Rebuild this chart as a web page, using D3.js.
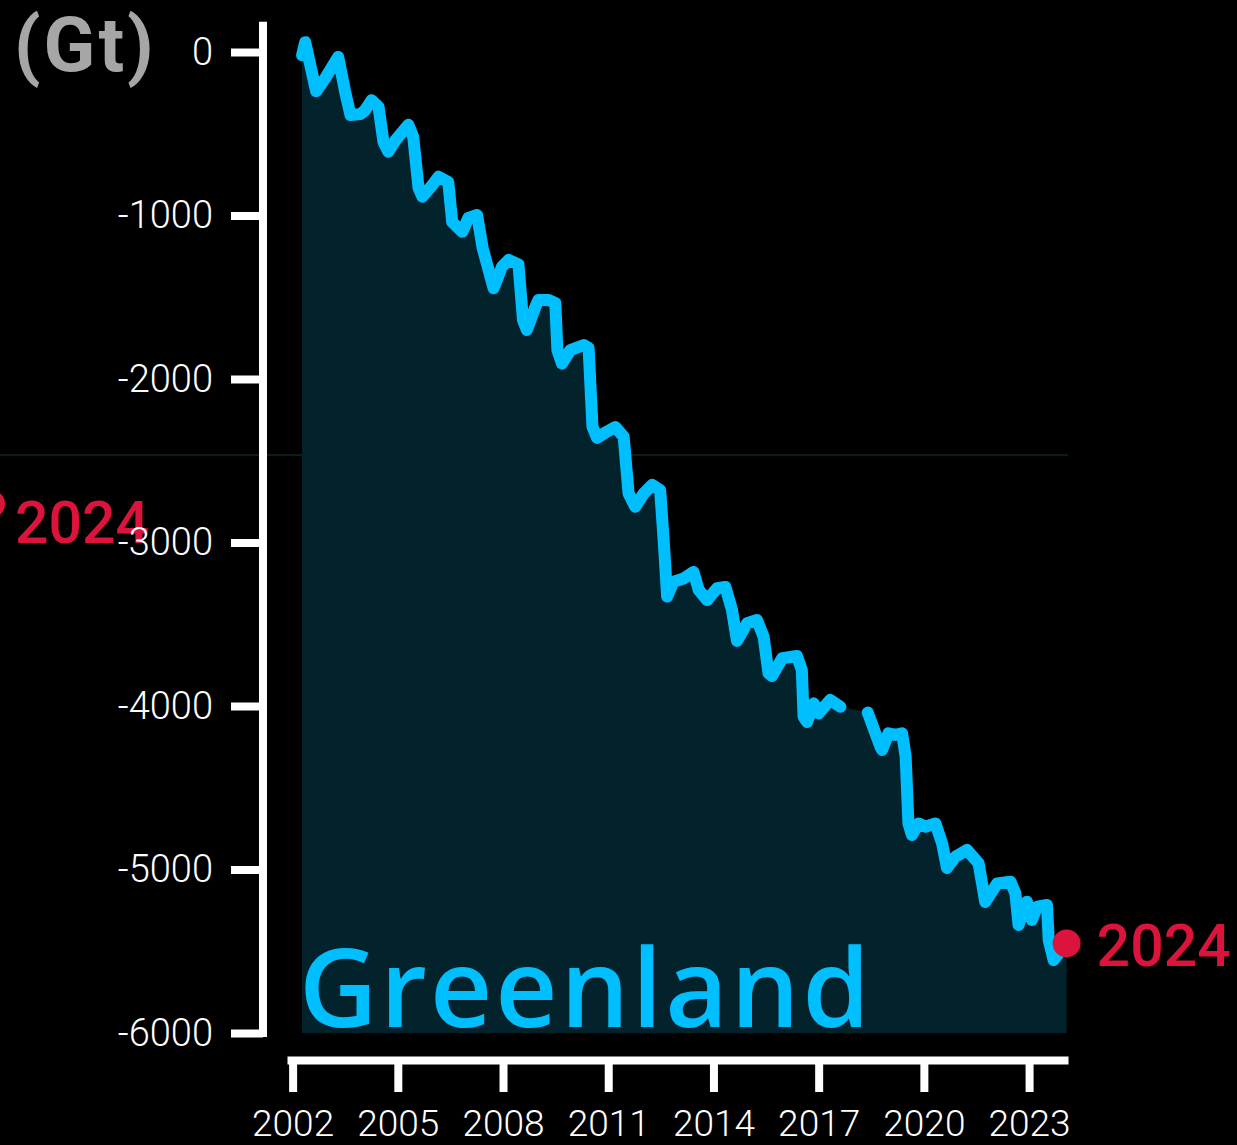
<!DOCTYPE html>
<html>
<head>
<meta charset="utf-8">
<script src="https://cdn.jsdelivr.net/npm/d3@7"></script>
<style>
html,body{margin:0;padding:0;background:#000;}
svg{display:block;background:#000;}
</style>
</head>
<body>
<svg id="chart" width="1237" height="1145"></svg>
<script>
// ---- data (decimal year, cumulative mass change in Gt) ----
const years = [
  2002.27, 2002.36, 2002.67, 2002.93, 2003.30, 2003.50, 2003.65, 2003.93, 2004.07, 2004.25,
  2004.45, 2004.59, 2004.73, 2004.93, 2005.30, 2005.44, 2005.59, 2005.70, 2005.98, 2006.16,
  2006.44, 2006.55, 2006.84, 2007.01, 2007.26, 2007.42, 2007.73, 2007.97, 2008.16, 2008.44,
  2008.57, 2008.68, 2008.92, 2009.01, 2009.30, 2009.49, 2009.55, 2009.68, 2009.92, 2010.30,
  2010.44, 2010.55, 2010.68, 2010.96, 2011.20, 2011.44, 2011.58, 2011.77, 2012.01, 2012.25,
  2012.48, 2012.58, 2012.68, 2012.86, 2013.15, 2013.43, 2013.58, 2013.82, 2014.10, 2014.34,
  2014.53, 2014.67, 2014.96, 2015.24, 2015.43, 2015.57, 2015.67, 2015.96, 2016.38, 2016.52,
  2016.57, 2016.67, 2016.86, 2017.00, 2017.33, 2017.62, 2018.00, 2018.40, 2018.76, 2018.81,
  2018.99, 2019.19, 2019.38, 2019.48, 2019.56, 2019.66, 2019.85, 2020.04, 2020.33, 2020.52,
  2020.66, 2020.90, 2021.23, 2021.56, 2021.75, 2022.09, 2022.47, 2022.61, 2022.70, 2022.94,
  2023.08, 2023.23, 2023.51, 2023.56, 2023.70, 2024.07
];
const massGt = [
  -20, 60, -240, -160, -30, -245, -385, -380, -355, -295,
  -335, -550, -610, -540, -445, -520, -830, -885, -815, -763,
  -795, -1040, -1100, -1015, -997, -1200, -1445, -1313, -1272, -1300,
  -1640, -1700, -1560, -1517, -1517, -1535, -1823, -1905, -1823, -1792,
  -1810, -2290, -2360, -2322, -2294, -2353, -2700, -2781, -2700, -2648,
  -2679, -2985, -3331, -3240, -3220, -3180, -3290, -3352, -3280, -3272,
  -3413, -3602, -3494, -3474, -3576, -3800, -3817, -3708, -3694, -3780,
  -4065, -4098, -3984, -4045, -3963, -4004, null, -4040, -4249, -4269,
  -4167, -4177, -4167, -4310, -4718, -4789, -4718, -4738, -4718, -4840,
  -4991, -4922, -4881, -4962, -5199, -5085, -5075, -5146, -5339, -5197,
  -5309, -5227, -5217, -5431, -5554, -5452
];
const yTicks = [0, -1000, -2000, -3000, -4000, -5000, -6000];
const xTicks = [2002, 2005, 2008, 2011, 2014, 2017, 2020, 2023];
const unitLabel = "(Gt)";
const regionName = "Greenland";
const latestLabel = "2024";
const ghostLevel = -2465;   // faint guide line left over from the neighbouring panel
const yBase = -6000;
const yAxisTop = 160;

// ---- colours ----
const lineColor = "#00bfff";
const areaColor = "#02232c";
const accent = "#dc143c";

const svg = d3.select("#chart");
const data = years.map((yr, i) => ({year: yr, value: massGt[i]}));
const filled = data.filter(d => d.value !== null);
const last = filled[filled.length - 1];

const x = d3.scaleLinear().domain([2001.84, 2024.11]).range([287, 1068]);
const y = d3.scaleLinear().domain([-6000, 0]).range([1033, 52]);

// faint guide line
svg.append("line")
  .attr("x1", 0).attr("x2", x(2024.11))
  .attr("y1", y(ghostLevel)).attr("y2", y(ghostLevel))
  .attr("stroke", "#0a1c1e").attr("stroke-width", 2);

// area
svg.append("path")
  .datum(filled)
  .attr("fill", areaColor)
  .attr("d", d3.area().x(d => x(d.year)).y0(y(yBase)).y1(d => y(d.value)));

// line
svg.append("path")
  .datum(data)
  .attr("fill", "none")
  .attr("stroke", lineColor)
  .attr("stroke-width", 12)
  .attr("stroke-linejoin", "round")
  .attr("stroke-linecap", "round")
  .attr("d", d3.line().defined(d => d.value !== null).x(d => x(d.year)).y(d => y(d.value)));

// region name
svg.append("text")
  .attr("x", 299).attr("y", 1027)
  .attr("fill", lineColor)
  .attr("font-family", "'Open Sans', sans-serif")
  .attr("font-weight", 600)
  .attr("font-size", 108)
  .attr("letter-spacing", 3)
  .text(regionName);

// latest point
svg.append("circle")
  .attr("cx", x(last.year)).attr("cy", y(last.value)).attr("r", 14)
  .attr("fill", accent);
svg.append("text")
  .attr("x", x(last.year) + 30).attr("y", y(last.value) + 23)
  .attr("fill", accent)
  .attr("font-family", "Roboto, sans-serif")
  .attr("font-weight", 500)
  .attr("font-size", 59)
  .text(latestLabel);

// ghost label from neighbouring panel
svg.append("circle").attr("cx", -9).attr("cy", 504).attr("r", 14).attr("fill", accent);
svg.append("text")
  .attr("x", 15).attr("y", 543)
  .attr("fill", accent)
  .attr("font-family", "Roboto, sans-serif")
  .attr("font-weight", 500)
  .attr("font-size", 59)
  .text(latestLabel);

// y axis
const yAxisX = 263;
const gy = svg.append("g").attr("transform", `translate(${yAxisX},0)`)
  .call(d3.axisLeft(y).tickValues(yTicks).tickSize(32).tickSizeOuter(0).tickPadding(18).tickFormat(d => String(d)));
gy.select(".domain").remove();
gy.selectAll(".tick line").attr("stroke", "#fff").attr("stroke-width", 8);
gy.selectAll(".tick text")
  .attr("fill", "#fff")
  .attr("font-family", "Roboto, sans-serif")
  .attr("font-weight", 300)
  .attr("font-size", 38);
gy.append("line")
  .attr("x1", 0).attr("x2", 0)
  .attr("y1", y(yAxisTop)).attr("y2", y(yBase))
  .attr("stroke", "#fff").attr("stroke-width", 8).attr("stroke-linecap", "square");

// x axis
const gx = svg.append("g").attr("transform", "translate(0,1060)")
  .call(d3.axisBottom(x).tickValues(xTicks).tickSize(32).tickSizeOuter(0).tickPadding(18).tickFormat(d => String(d)));
gx.select(".domain").attr("stroke", "#fff").attr("stroke-width", 8);
gx.selectAll(".tick line").attr("stroke", "#fff").attr("stroke-width", 8);
gx.selectAll(".tick text")
  .attr("fill", "#fff")
  .attr("font-family", "Roboto, sans-serif")
  .attr("font-weight", 300)
  .attr("font-size", 37);

// unit label
svg.append("text")
  .attr("x", 14).attr("y", 71)
  .attr("fill", "#a6a6a6")
  .attr("font-family", "Roboto, sans-serif")
  .attr("font-weight", 700)
  .attr("font-size", 76)
  .attr("letter-spacing", 3)
  .text(unitLabel);
</script>
</body>
</html>
